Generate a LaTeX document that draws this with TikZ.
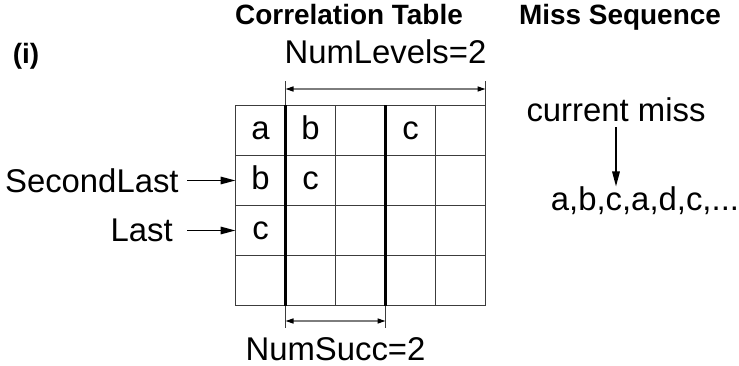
\documentclass[tikz,border=0pt]{standalone}
\usepackage{fontspec}
\setmainfont{Liberation Sans}
\usetikzlibrary{arrows.meta, positioning, matrix, calc}
\definecolor{gridgray}{RGB}{60,60,60}
\definecolor{dimgray}{RGB}{125,125,125}

\begin{document}
\begin{tikzpicture}[
    cell/.style={rectangle, draw=gridgray, line width=0.6pt, minimum size=1cm, inner sep=0pt, outer sep=0pt, anchor=center, text height=9.7pt, text depth=0pt, font=\fontsize{18.7}{22}\selectfont},
    lbl/.style={inner sep=0pt, font=\fontsize{18.7}{22}\selectfont},
    title/.style={inner sep=0pt, anchor=base, font=\fontsize{15.9}{19}\selectfont\bfseries},
    ptr/.style={-{Triangle[length=0.3cm, width=0.15cm]}, line width=0.9pt},
    dimline/.style={dimgray, line width=0.8pt, {Triangle[length=0.16cm, width=0.1cm, color=black]}-{Triangle[length=0.16cm, width=0.1cm, color=black]}},
    extline/.style={gridgray, line width=0.6pt},
    divider/.style={line width=1.3pt}
]
\useasboundingbox (0,0) rectangle (14.78,7.30);

\node[title] (ctitle) at (6.98,6.81) {Correlation Table};
\node[title] (mtitle) at (12.40,6.81) {Miss Sequence};
\node[title] (part) at (0.52,6.02) {(i)};

\matrix (tab) [matrix of nodes, nodes in empty cells, nodes={cell}, column sep=-0.6pt, row sep=-0.6pt, inner sep=0pt] at (7.21,3.19) {
a & b & & c & \\
b & c & & & \\
c & & & & \\
 & & & & \\
};

\draw[divider] (tab-1-2.north west) -- (tab-4-2.south west);
\draw[divider] (tab-1-4.north west) -- (tab-4-4.south west);

\coordinate[above=0.48cm of tab-1-2.north west] (lvlA);
\coordinate[above=0.48cm of tab-1-5.north east] (lvlB);
\coordinate[above=0.33cm of tab-1-2.north west] (lvlL);
\coordinate[above=0.33cm of tab-1-5.north east] (lvlR);
\draw[extline] (tab-1-2.north west) -- (lvlA);
\draw[extline] (tab-1-5.north east) -- (lvlB);
\draw[dimline] (lvlL) -- (lvlR);
\node[lbl] (numlevels) at (7.71,6.27) {NumLevels=2};

\coordinate[below=0.45cm of tab-4-2.south west] (succA);
\coordinate[below=0.45cm of tab-4-4.south west] (succB);
\coordinate[below=0.31cm of tab-4-2.south west] (succL);
\coordinate[below=0.31cm of tab-4-4.south west] (succR);
\draw[extline] (tab-4-2.south west) -- (succA);
\draw[extline] (tab-4-4.south west) -- (succB);
\draw[dimline] (succL) -- (succR);
\node[lbl] (numsucc) at (6.71,0.32) {NumSucc=2};

\coordinate[left=0.97cm of tab-2-1.west] (slA);
\coordinate[left=0.97cm of tab-3-1.west] (lastA);
\node[lbl, left=0.16cm of slA] (secondlast) {SecondLast};
\node[lbl, left=0.28cm of lastA] (last) {Last};
\draw[ptr] (slA) -- (tab-2-1.west);
\draw[ptr] (lastA) -- (tab-3-1.west);

\node[lbl, anchor=base] (cur) at (12.32,4.87) {current miss};
\node[lbl, anchor=base west] (seq) at (11.01,3.09) {a,b,c,a,d,c,...};
\coordinate (hit) at (12.32,3.57);
\draw[ptr, shorten <=0.1cm] (cur.south) -- (hit);
\end{tikzpicture}
\end{document}
